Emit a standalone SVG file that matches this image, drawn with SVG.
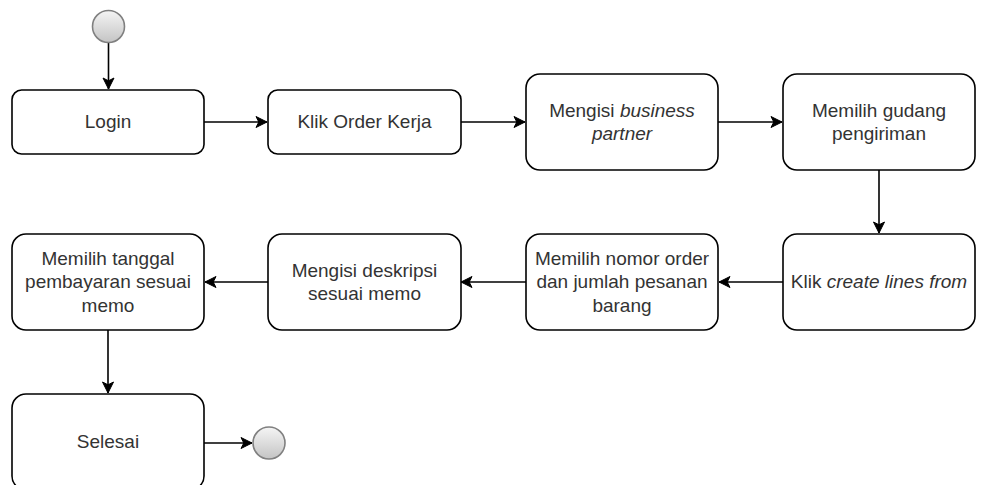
<svg xmlns="http://www.w3.org/2000/svg" width="983" height="485" viewBox="0 0 983 485">
<style>
.box{fill:#ffffff;stroke:#000000;stroke-width:1.6}
.t{font-family:"Liberation Sans",Arial,Helvetica,sans-serif;font-size:19px;fill:#333333;text-anchor:middle}
.c{fill:none;stroke:#000000;stroke-width:1.6}
.st{fill:url(#g);stroke:#808080;stroke-width:1.6}
</style>
<defs>
<linearGradient id="g" x1="0" y1="0" x2="0" y2="1">
<stop offset="0" stop-color="#f5f5f5"/>
<stop offset="1" stop-color="#c4c4c4"/>
</linearGradient>
<marker id="a" markerUnits="userSpaceOnUse" markerWidth="14" markerHeight="14" viewBox="0 0 14 14" refX="12" refY="7" orient="auto">
<path d="M1,1.5 L12,7 L1,12.5 L3.8,7 Z" fill="#000000" stroke="#000000" stroke-width="1"/>
</marker>
</defs>
<g id="connectors">
<path class="c" d="M108.5,43 V89" marker-end="url(#a)"/>
<path class="c" d="M204,122 H267" marker-end="url(#a)"/>
<path class="c" d="M461,122 H525" marker-end="url(#a)"/>
<path class="c" d="M718,122 H782" marker-end="url(#a)"/>
<path class="c" d="M879,170 V233" marker-end="url(#a)"/>
<path class="c" d="M783,282 H719" marker-end="url(#a)"/>
<path class="c" d="M526,282 H461" marker-end="url(#a)"/>
<path class="c" d="M268,282 H205" marker-end="url(#a)"/>
<path class="c" d="M108,330 V393" marker-end="url(#a)"/>
<path class="c" d="M204,443 H252" marker-end="url(#a)"/>
</g>
<g id="start"><circle class="st" cx="108.5" cy="26.5" r="16"/></g>
<g id="login"><rect class="box" x="12" y="90" width="192" height="64" rx="9.6"/><text class="t" x="108" y="128">Login</text></g>
<g id="klik-order"><rect class="box" x="268" y="90" width="193" height="64" rx="9.6"/><text class="t" x="364.5" y="128">Klik Order Kerja</text></g>
<g id="mengisi-bp"><rect class="box" x="526" y="74" width="192" height="96" rx="14"/><text class="t" x="622" y="117">Mengisi <tspan font-style="italic">business</tspan></text><text class="t" x="622" y="140" font-style="italic">partner</text></g>
<g id="gudang"><rect class="box" x="783" y="74" width="192" height="96" rx="14"/><text class="t" x="879" y="117">Memilih gudang</text><text class="t" x="879" y="140">pengiriman</text></g>
<g id="create-lines"><rect class="box" x="783" y="234" width="192" height="96" rx="14"/><text class="t" x="879" y="288">Klik <tspan font-style="italic">create lines from</tspan></text></g>
<g id="nomor-order"><rect class="box" x="526" y="234" width="192" height="96" rx="14"/><text class="t" x="622" y="265">Memilih nomor order</text><text class="t" x="622" y="288">dan jumlah pesanan</text><text class="t" x="622" y="312">barang</text></g>
<g id="deskripsi"><rect class="box" x="268" y="234" width="193" height="96" rx="14"/><text class="t" x="364.5" y="277">Mengisi deskripsi</text><text class="t" x="364.5" y="300">sesuai memo</text></g>
<g id="tanggal"><rect class="box" x="12" y="234" width="192" height="96" rx="14"/><text class="t" x="108" y="265">Memilih tanggal</text><text class="t" x="108" y="288">pembayaran sesuai</text><text class="t" x="108" y="312">memo</text></g>
<g id="selesai"><rect class="box" x="12" y="394" width="192" height="96" rx="14"/><text class="t" x="108" y="448">Selesai</text></g>
<g id="end"><circle class="st" cx="269" cy="443" r="16"/></g>
</svg>
